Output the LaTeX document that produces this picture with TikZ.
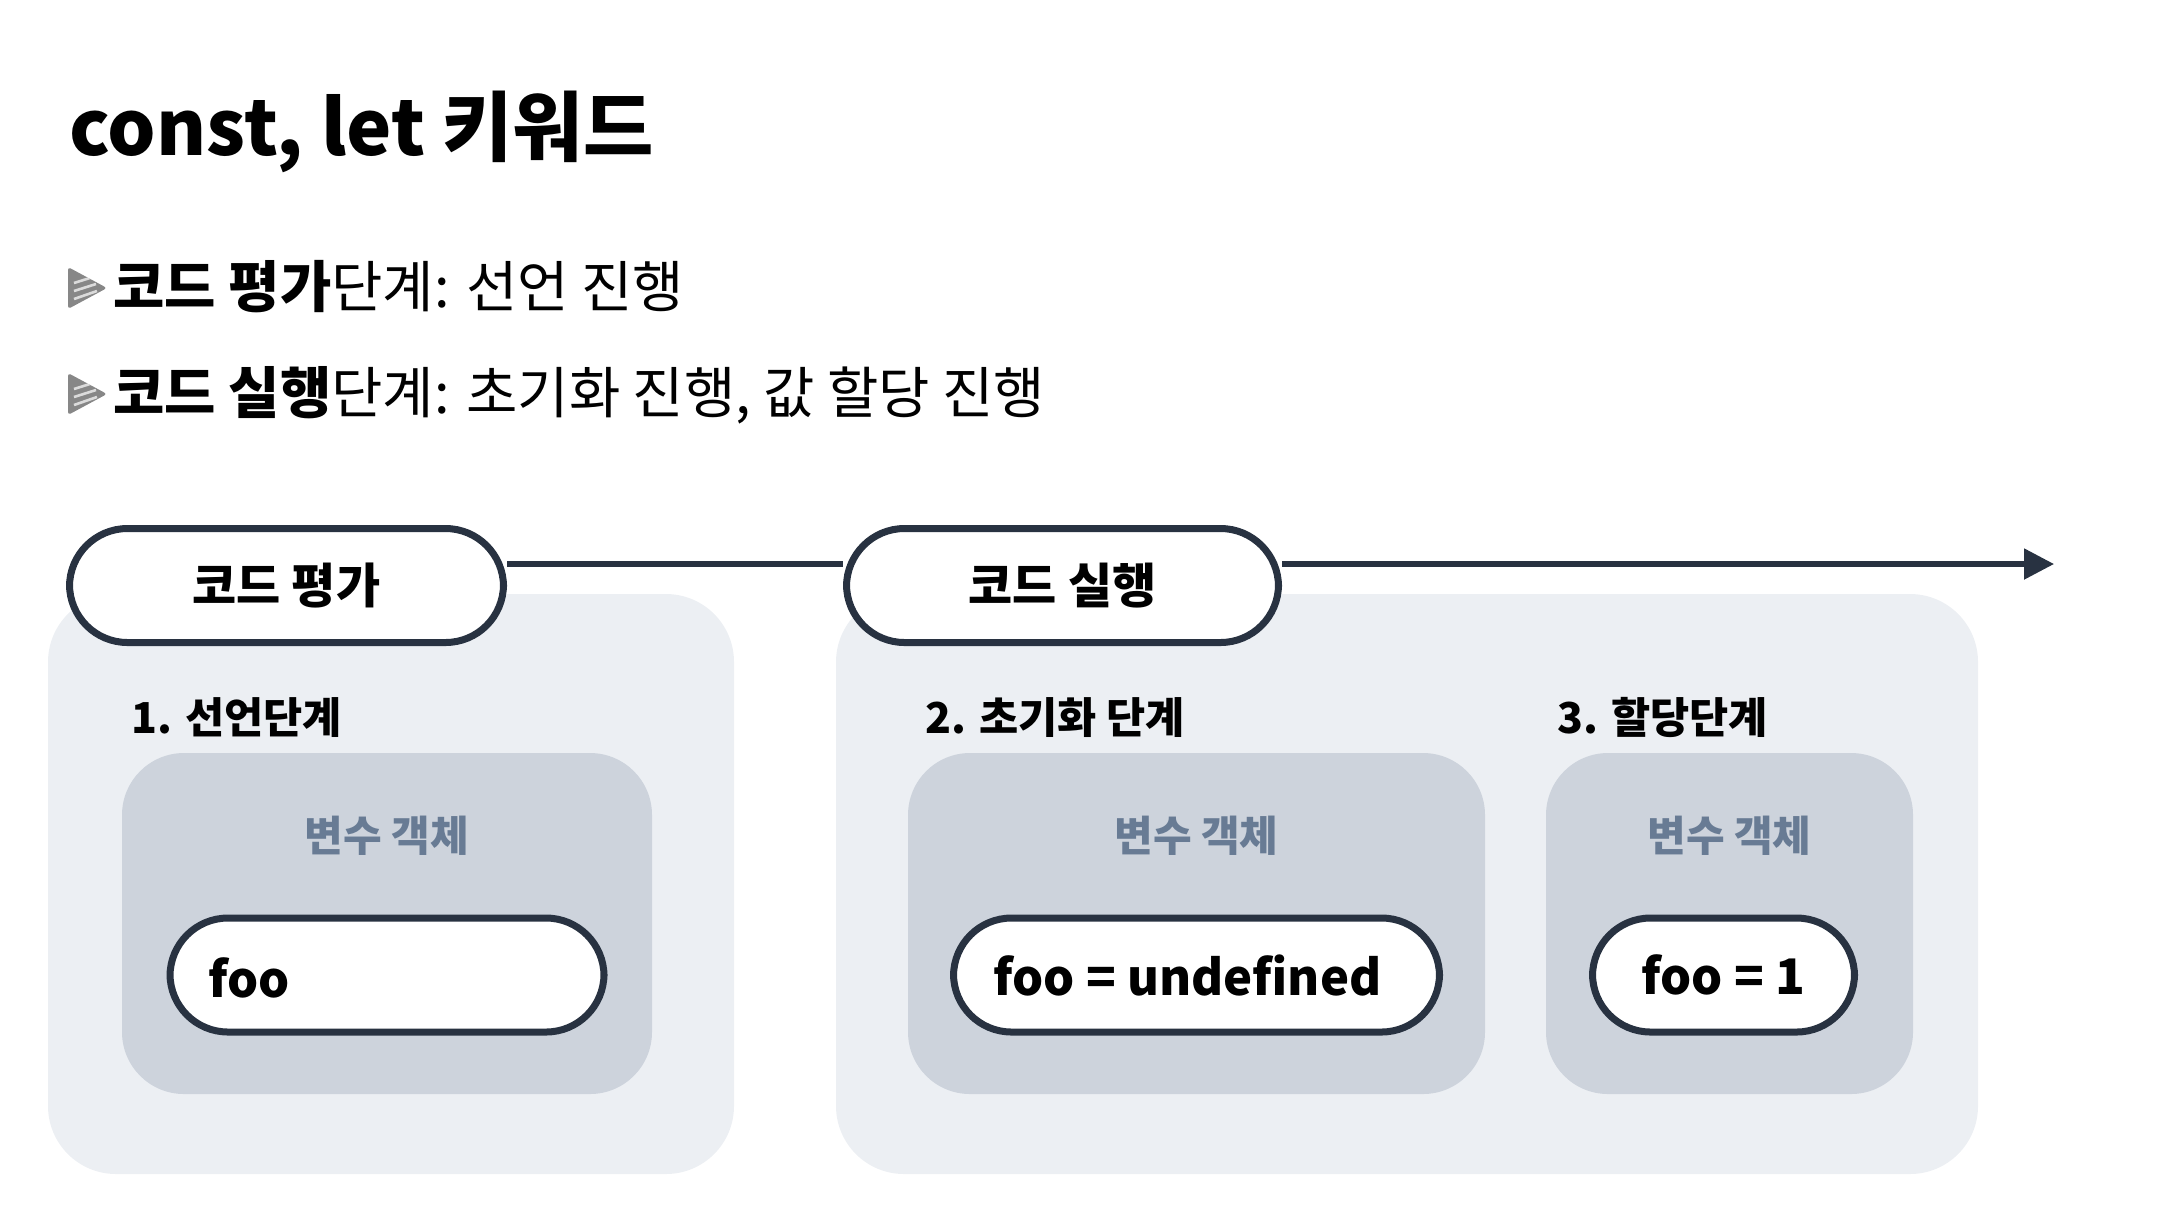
\documentclass[tikz,border=0pt]{standalone}
\usepackage{fontspec}
\setmainfont{Noto Sans CJK KR}
\usetikzlibrary{arrows.meta}
\definecolor{dark}{HTML}{283241}
\definecolor{outerbg}{HTML}{ECEFF3}
\definecolor{innerbg}{HTML}{CDD3DC}
\definecolor{objlabel}{HTML}{687B94}
\definecolor{bulletgray}{HTML}{878787}
\tikzset{
  outerbox/.style={fill=outerbg, draw=none, rounded corners=34pt, minimum height=290pt},
  innerbox/.style={fill=innerbg, draw=none, rounded corners=31pt, minimum height=170.5pt},
  phasepill/.style={fill=white, draw=dark, line width=3.5pt, rounded corners=29pt, minimum height=57pt, font=\fontsize{24}{28}\selectfont\bfseries},
  valpill/.style={fill=white, draw=dark, line width=3.5pt, rounded corners=29pt, minimum height=57pt, font=\fontsize{24.5}{30}\selectfont\bfseries},
  stagelabel/.style={anchor=base west, inner sep=0pt, font=\fontsize{21.3}{25}\selectfont\bfseries},
  objtext/.style={text=objlabel, inner sep=0pt, font=\fontsize{21}{25}\selectfont\bfseries},
  bullettext/.style={anchor=base west, inner sep=0pt, font=\fontsize{27.9}{32}\selectfont},
  timeline/.style={draw=dark, line width=2.6pt},
  stripe/.style={draw=white, line width=1.3pt, opacity=0.7},
}
\newcommand{\bulletmark}[2]{%
  \begin{scope}[shift={(#1,#2)}]
    \fill[bulletgray, rounded corners=1.5pt] (0,-21) -- (39,0) -- (0,21) -- cycle;
    \begin{scope}
      \clip (0,-21) -- (39,0) -- (0,21) -- cycle;
      \draw[stripe] (6,-5) -- (25,-11);
      \draw[stripe] (6,3) -- (28,-4);
      \draw[stripe] (6,11) -- (29,3);
    \end{scope}
  \end{scope}}
\begin{document}
\begin{tikzpicture}[x=0.5pt, y=-0.5pt]
\useasboundingbox (0,0) rectangle (2166,1212);
% title
\node[anchor=base west, inner sep=0pt, font=\fontsize{38.2}{44}\selectfont\bfseries] (title) at (69,155) {const, let 키워드};
% bullets
\bulletmark{68}{288}
\node[bullettext] (b1) at (113,307) {\textbf{코드 평가}단계: 선언 진행};
\bulletmark{68}{394}
\node[bullettext] (b2) at (113,413) {\textbf{코드 실행}단계: 초기화 진행, 값 할당 진행};
% outer boxes
\node[outerbox, minimum width=343pt] (evalbox) at (391,884) {};
\node[outerbox, minimum width=571pt] (execbox) at (1407,884) {};
% inner boxes
\node[innerbox, minimum width=265pt] (objA) at (387,923.5) {};
\node[innerbox, minimum width=288.5pt] (objB) at (1196.5,923.5) {};
\node[innerbox, minimum width=183.5pt] (objC) at (1729.5,923.5) {};
% stage labels
\node[stagelabel] (s1) at (131,733) {1. 선언단계};
\node[stagelabel] (s2) at (925,733) {2. 초기화 단계};
\node[stagelabel] (s3) at (1557,733) {3. 할당단계};
% object labels
\node[objtext] (oA) at (387,836) {변수 객체};
\node[objtext] (oB) at (1196.5,836) {변수 객체};
\node[objtext] (oC) at (1729.5,836) {변수 객체};
% value pills
\node[valpill, minimum width=217pt] (vA) at (387,975) {};
\node[anchor=west, inner sep=0pt, font=\fontsize{24.5}{30}\selectfont\bfseries] (vAt) at (208,978) {foo};
\node[valpill, minimum width=243pt] (vB) at (1196.5,975) {foo = undefined\hspace*{9pt}};
\node[valpill, minimum width=131pt] (vC) at (1723.5,975) {foo = 1};
% phase pills
\node[phasepill, minimum width=217pt] (eval) at (286.5,585.5) {코드 평가};
\node[phasepill, minimum width=216pt] (exec) at (1062.5,585.5) {코드 실행};
\coordinate (tend) at (2054,564);
% timeline
\draw[timeline] (eval.east |- tend) -- (exec.west |- tend);
\draw[timeline, -{Triangle[length=15pt, width=15pt]}] (exec.east |- tend) -- (tend);
\end{tikzpicture}
\end{document}
